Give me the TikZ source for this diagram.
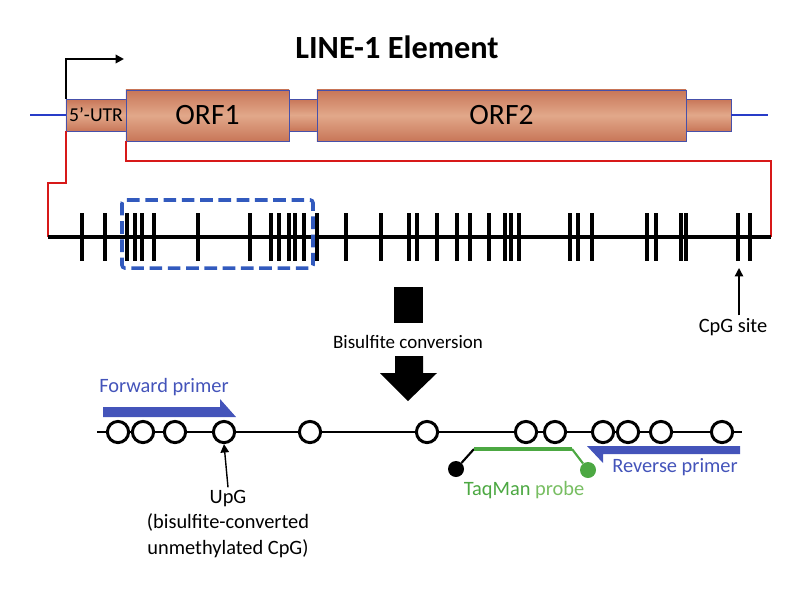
\documentclass[tikz,border=0pt]{standalone}
\usepackage{fontspec}
\setmainfont{Carlito}
\usetikzlibrary{arrows.meta, calc}

\definecolor{geneline}{RGB}{40,60,200}
\definecolor{geneedge}{RGB}{70,80,170}
\definecolor{genedark}{RGB}{200,118,88}
\definecolor{genelight}{RGB}{226,168,138}
\definecolor{linkred}{RGB}{215,25,25}
\definecolor{boxblue}{RGB}{50,90,190}
\definecolor{primerblue}{RGB}{68,84,186}
\definecolor{probegreen}{RGB}{76,168,66}
\definecolor{probelight}{RGB}{120,190,98}

\begin{document}
\begin{tikzpicture}[x=0.025cm, y=-0.025cm, >={Triangle[length=6pt, width=6pt]},
	line cap=butt, line join=miter,
	lbl/.style={font=\fontsize{14.5}{18}\selectfont, inner sep=2pt},
	gene/.style={draw=geneedge, line width=0.6pt, top color=genedark, bottom color=genedark,
		middle color=genelight, minimum height=0.8cm, inner sep=0pt},
	orf/.style={gene, minimum height=1.275cm, font=\fontsize{21}{24}\selectfont},
	tick/.style={line width=2.5pt},
	cpg/.style={circle, draw, line width=2.1pt, fill=white, minimum size=0.53cm, inner sep=0pt},
	dot/.style={circle, minimum size=0.4cm, inner sep=0pt}]

\useasboundingbox (0,0) rectangle (800,606);

%========================
% Top: LINE-1 element
%========================
\node[font=\fontsize{23}{26}\selectfont\bfseries] (title) at (397,47) {LINE-1 Element};

% flanking genomic line
\coordinate (flankL) at (30,115);
\coordinate (flankR) at (768,115);

\node[gene, minimum width=1.5cm, font=\fontsize{14}{16}\selectfont] (utr) at (96,115) {5’-UTR};
\node[orf, minimum width=4.075cm] (orf1) at (207.5,115.5) {ORF1};
\node[gene, minimum width=0.7cm] (link) at (303,115) {};
\node[orf, minimum width=9.225cm] (orf2) at (501.5,115.5) {ORF2};
\node[gene, minimum width=1.125cm] (tail) at (708.5,115) {};

\draw[geneline, line width=1pt] (flankL) -- (utr.west);
\draw[geneline, line width=1pt] (tail.east) -- (flankR);

% transcription start
\coordinate (tss) at (124,59);
\draw[->, line width=1.5pt] (utr.north west) |- (tss);

%========================
% Middle: 5'-UTR with CpG sites
%========================
\coordinate (dnaL) at (48,237);
\coordinate (dnaR) at (771,237);

% zoom lines (red)
\draw[linkred, line width=1.4pt] (utr.south west) |- (48,183) -- (dnaL);
\draw[linkred, line width=1.4pt] (orf1.south west) |- (771,161) -- (dnaR);

\draw[line width=2.8pt] (dnaL) -- (dnaR);

% CpG sites
\foreach \x in {82,105,127,135,142,154,198,250,271,279,289,295,304,317,346,381,
	409,417,437,457,470,489,505,511,519,570,578,592,647,656,681,686,738,750}
	\draw[tick] (\x,213) -- (\x,261);

% amplified region
\draw[boxblue, line width=2.5pt, dash pattern=on 9pt off 4pt, rounded corners=2pt]
	(122,200) rectangle (313,268);

\node[lbl] (cpglbl) at (733,327) {CpG site};
\coordinate (cpgtick) at (739,268);
\draw[->, line width=1pt] (cpglbl.north -| cpgtick) -- (cpgtick);

%========================
% Bisulfite conversion arrow
%========================
\fill (394,287) rectangle (423,323);
\node[lbl, font=\fontsize{13.5}{16}\selectfont] (bisulf) at (408,342) {Bisulfite conversion};
\fill (395,356) -- (423,356) -- (423,373) -- (437,373) -- (408,401) -- (380,373)
	-- (395,373) -- cycle;

%========================
% Bottom: converted sequence
%========================
\draw[line width=1.1pt] (97,432) -- (742,432);
\foreach \x [count=\i] in {118,143,175,224,310,427,526,555,603,628,661,722}
	\node[cpg] (c\i) at (\x,432) {};

% forward primer
\fill[primerblue] (103,407) -- (220,407) -- (220,399) -- (236,417) -- (103,417) -- cycle;
\node[lbl, primerblue] (fwd) at (164,387) {Forward primer};

% reverse primer
\fill[primerblue] (740,446) -- (587,446) -- (603,463) -- (603,454) -- (740,454) -- cycle;
\node[lbl, primerblue] (rev) at (675,467) {Reverse primer};

% TaqMan probe
\coordinate (probeL) at (474,449);
\coordinate (probeR) at (572,449);
\node[dot, fill=black] (quench) at (456,469) {};
\node[dot, fill=probegreen] (fluor) at (588,470) {};
\draw[line width=1.5pt] (quench) -- (probeL);
\draw[probegreen, line width=1.5pt] (probeR) -- (fluor);
\draw[probegreen, line width=3pt] (probeL) -- (probeR);
\node[lbl] (probe) at (524,490) {\color{probegreen}TaqMan \color{probelight}probe};

% UpG label
\node[lbl, align=center] (upg) at (228,524) {UpG\\(bisulfite-converted\\unmethylated CpG)};
\draw[->, line width=1pt] (upg.north) -- (c4.south);

\end{tikzpicture}
\end{document}
